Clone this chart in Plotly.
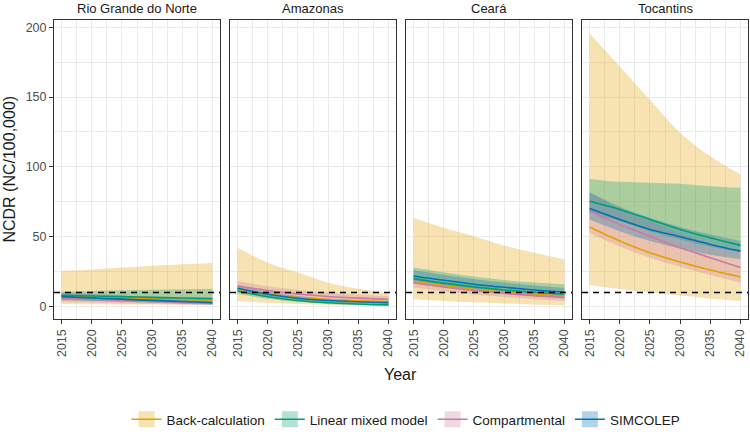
import plotly.graph_objects as go

# ---------------- data ----------------
YEARS = [2015, 2020, 2025, 2030, 2035, 2040]
STATES = ["Rio Grande do Norte", "Amazonas", "Ceará", "Tocantins"]
MODELS = ["Back-calculation", "Linear mixed model", "Compartmental", "SIMCOLEP"]
TARGET = 10
X_TICKS = [2015, 2020, 2025, 2030, 2035, 2040]
Y_TICKS = [0, 50, 100, 150, 200]

# Rio Grande do Norte
rgn_bc_mean = [7.8, 7.0, 6.3, 5.6, 5.0, 4.5]
rgn_bc_low = [1.8, 1.6, 1.5, 1.4, 1.3, 1.2]
rgn_bc_up = [25.4, 26.5, 27.9, 29.3, 30.3, 31.2]
rgn_lmm_mean = [8.1, 7.6, 7.1, 6.6, 6.1, 5.7]
rgn_lmm_low = [4.5, 4.2, 3.8, 3.5, 3.2, 3.0]
rgn_lmm_up = [10.8, 11.2, 11.6, 12.0, 12.4, 12.8]
rgn_comp_mean = [5.7, 5.0, 4.3, 3.6, 2.9, 2.3]
rgn_comp_low = [3.2, 2.7, 2.2, 1.8, 1.4, 1.0]
rgn_comp_up = [8.5, 7.8, 7.0, 6.2, 5.4, 4.7]
rgn_sim_mean = [7.1, 6.2, 5.3, 4.4, 3.6, 2.8]
rgn_sim_low = [4.8, 4.1, 3.4, 2.7, 2.0, 1.5]
rgn_sim_up = [9.8, 8.9, 7.9, 6.8, 5.7, 4.6]

# Amazonas
am_bc_mean = [12.4, 9.0, 6.5, 5.0, 4.2, 3.6]
am_bc_low = [4.0, 2.8, 1.9, 1.3, 0.9, 0.5]
am_bc_up = [42.1, 31.4, 24.3, 17.1, 12.8, 9.5]
am_lmm_mean = [11.2, 7.0, 4.3, 2.7, 1.8, 1.2]
am_lmm_low = [9.0, 5.5, 3.2, 1.8, 1.0, 0.5]
am_lmm_up = [13.5, 8.8, 5.8, 3.8, 2.7, 2.0]
am_comp_mean = [14.7, 11.5, 9.0, 7.2, 6.0, 5.2]
am_comp_low = [11.5, 8.8, 6.8, 5.2, 4.0, 3.2]
am_comp_up = [18.3, 14.5, 11.8, 9.8, 8.5, 7.6]
am_sim_mean = [13.1, 8.8, 6.0, 4.3, 3.4, 2.8]
am_sim_low = [10.8, 7.0, 4.6, 3.1, 2.3, 1.8]
am_sim_up = [15.5, 10.8, 7.6, 5.6, 4.6, 3.9]

# Ceará
ce_bc_mean = [18.3, 15.0, 12.4, 10.4, 8.8, 7.6]
ce_bc_low = [5.2, 4.0, 3.0, 2.2, 1.5, 0.9]
ce_bc_up = [63.6, 56.4, 50.4, 43.8, 38.6, 33.8]
ce_lmm_mean = [20.0, 16.8, 14.1, 11.9, 10.2, 8.8]
ce_lmm_low = [16.5, 13.5, 11.0, 9.0, 7.4, 6.2]
ce_lmm_up = [27.9, 24.5, 21.5, 19.0, 17.2, 15.9]
ce_comp_mean = [17.1, 14.0, 11.5, 9.5, 7.8, 6.4]
ce_comp_low = [13.6, 10.8, 8.6, 6.8, 5.3, 4.0]
ce_comp_up = [21.0, 17.5, 14.6, 12.3, 10.4, 9.0]
ce_sim_mean = [21.9, 18.8, 16.0, 13.8, 11.9, 10.4]
ce_sim_low = [18.0, 15.2, 12.8, 10.8, 9.2, 7.9]
ce_sim_up = [26.2, 22.8, 19.8, 17.2, 15.1, 13.4]

# Tocantins
to_bc_mean = [56.9, 46.9, 38.5, 31.9, 26.2, 21.2]
to_bc_low = [15.4, 12.5, 10.0, 8.0, 5.8, 4.0]
to_bc_up = [195.7, 171.9, 148.0, 124.5, 107.6, 94.5]
to_lmm_mean = [75.4, 69.5, 62.4, 55.2, 49.3, 43.8]
to_lmm_low = [68.0, 61.0, 54.0, 48.0, 43.0, 39.0]
to_lmm_up = [91.4, 89.3, 88.6, 87.9, 86.2, 85.0]
to_comp_mean = [68.3, 58.8, 50.4, 42.1, 35.0, 27.9]
to_comp_low = [52.8, 43.0, 35.0, 28.5, 22.5, 17.1]
to_comp_up = [81.4, 70.5, 61.0, 52.5, 45.0, 38.6]
to_sim_mean = [70.2, 62.4, 55.2, 50.0, 44.5, 39.7]
to_sim_low = [62.4, 54.0, 47.0, 41.5, 37.0, 33.8]
to_sim_up = [81.9, 71.5, 63.5, 57.0, 51.5, 46.9]

DATA = {
    "Rio Grande do Norte": [
        (rgn_bc_mean, rgn_bc_low, rgn_bc_up), (rgn_lmm_mean, rgn_lmm_low, rgn_lmm_up),
        (rgn_comp_mean, rgn_comp_low, rgn_comp_up), (rgn_sim_mean, rgn_sim_low, rgn_sim_up)],
    "Amazonas": [
        (am_bc_mean, am_bc_low, am_bc_up), (am_lmm_mean, am_lmm_low, am_lmm_up),
        (am_comp_mean, am_comp_low, am_comp_up), (am_sim_mean, am_sim_low, am_sim_up)],
    "Ceará": [
        (ce_bc_mean, ce_bc_low, ce_bc_up), (ce_lmm_mean, ce_lmm_low, ce_lmm_up),
        (ce_comp_mean, ce_comp_low, ce_comp_up), (ce_sim_mean, ce_sim_low, ce_sim_up)],
    "Tocantins": [
        (to_bc_mean, to_bc_low, to_bc_up), (to_lmm_mean, to_lmm_low, to_lmm_up),
        (to_comp_mean, to_comp_low, to_comp_up), (to_sim_mean, to_sim_low, to_sim_up)],
}

# ---------------- style ----------------
LINE_COLORS = ["#E69F00", "#009E73", "#CC79A7", "#0072B2"]
FILL_COLORS = ["rgba(230,159,0,0.3)", "rgba(0,158,115,0.3)",
               "rgba(204,121,167,0.3)", "rgba(0,114,178,0.3)"]
FONT = "Liberation Sans, Arial, sans-serif"
W, H = 750, 435
PL, PR, GAP, PT, PB = 54, 748, 10, 20, 320
pw = (PR - PL - 3 * GAP) / 4

fig = go.Figure()

for i, st in enumerate(STATES):
    xa = "x" if i == 0 else f"x{i+1}"
    ya = "y" if i == 0 else f"y{i+1}"
    series = DATA[st]
    for m, (mean, low, up) in enumerate(series):
        fig.add_trace(go.Scatter(x=YEARS, y=low, xaxis=xa, yaxis=ya, mode="lines",
                                 line=dict(width=0, shape="spline", color=LINE_COLORS[m]),
                                 showlegend=False, hoverinfo="skip"))
        fig.add_trace(go.Scatter(x=YEARS, y=up, xaxis=xa, yaxis=ya, mode="lines",
                                 fill="tonexty", fillcolor=FILL_COLORS[m],
                                 line=dict(width=0, shape="spline", color=LINE_COLORS[m]),
                                 showlegend=False, hoverinfo="skip"))
    for m, (mean, low, up) in enumerate(series):
        fig.add_trace(go.Scatter(x=YEARS, y=mean, xaxis=xa, yaxis=ya, mode="lines",
                                 line=dict(width=1.6, shape="spline", color=LINE_COLORS[m]),
                                 showlegend=False, name=MODELS[m]))
    fig.add_shape(type="line", xref=f"{xa} domain", yref=ya, x0=0, x1=1, y0=TARGET, y1=TARGET,
                  line=dict(color="black", width=1.5, dash="6px,5px"))

# legend entries (ribbon-coloured key box with the model line through it)
for m, name in enumerate(MODELS):
    fig.add_trace(go.Scatter(x=[None], y=[None], mode="lines+markers",
                             marker=dict(symbol="square", size=16, color=FILL_COLORS[m],
                                         line=dict(width=0)),
                             line=dict(color=LINE_COLORS[m], width=1.6), name=name))

layout = dict(
    width=W, height=H, margin=dict(l=0, r=0, t=0, b=0),
    paper_bgcolor="white", plot_bgcolor="white",
    font=dict(family=FONT, color="#1A1A1A"),
    showlegend=True,
    legend=dict(orientation="h", traceorder="normal", x=406 / W, xanchor="center",
                y=(H - 420) / H, yanchor="middle",
                font=dict(size=13.5, color="#1A1A1A", family=FONT), itemwidth=30,
                bgcolor="rgba(0,0,0,0)"),
)
annotations = []
for i, st in enumerate(STATES):
    x0 = PL + i * (pw + GAP)
    x1 = x0 + pw
    sfx = "" if i == 0 else str(i + 1)
    layout["xaxis" + sfx] = dict(
        domain=[x0 / W, x1 / W], range=[2013.75, 2041.25], tickvals=X_TICKS,
        tickangle=-90, tickfont=dict(size=12.5, color="#4D4D4D", family=FONT),
        ticklabeloverflow="allow",
        ticks="outside", ticklen=4, tickcolor="#333333", tickwidth=1,
        showgrid=True, gridcolor="#EBEBEB", gridwidth=1.1,
        minor=dict(dtick=2.5, tick0=2015, showgrid=True, gridcolor="#EBEBEB", gridwidth=0.6),
        showline=True, linecolor="#333333", linewidth=1, mirror=True,
        zeroline=False, anchor="y" if i == 0 else f"y{i+1}", automargin=False,
    )
    layout["yaxis" + sfx] = dict(
        domain=[(H - PB) / H, (H - PT) / H], range=[-9.1, 205.2], tickvals=Y_TICKS,
        tickfont=dict(size=12.5, color="#4D4D4D", family=FONT),
        ticks="outside" if i == 0 else "", ticklen=4, tickcolor="#333333", tickwidth=1,
        showticklabels=(i == 0), ticklabeloverflow="allow",
        showgrid=True, gridcolor="#EBEBEB", gridwidth=1.1,
        minor=dict(dtick=25, tick0=0, showgrid=True, gridcolor="#EBEBEB", gridwidth=0.6),
        showline=True, linecolor="#333333", linewidth=1, mirror=True,
        zeroline=False, anchor="x" if i == 0 else f"x{i+1}", automargin=False,
    )
    annotations.append(dict(text=st, x=(x0 + x1) / 2 / W, y=1 - 9 / H, xref="paper", yref="paper",
                            showarrow=False, xanchor="center", yanchor="middle",
                            font=dict(size=13, color="#1A1A1A", family=FONT)))

annotations.append(dict(text="NCDR (NC/100,000)", x=10 / W, y=1 - 170 / H, xref="paper", yref="paper",
                        textangle=-90, showarrow=False, xanchor="center", yanchor="middle",
                        font=dict(size=16, color="#1A1A1A", family=FONT)))
annotations.append(dict(text="Year", x=(PL + PR) / 2 / W, y=1 - 375 / H, xref="paper", yref="paper",
                        showarrow=False, xanchor="center", yanchor="middle",
                        font=dict(size=16, color="#1A1A1A", family=FONT)))
layout["annotations"] = annotations
fig.update_layout(**layout)

fig.write_html("out.html", config={"displayModeBar": False},
               post_script="document.body.style.margin='0';document.body.style.overflow='hidden';")
